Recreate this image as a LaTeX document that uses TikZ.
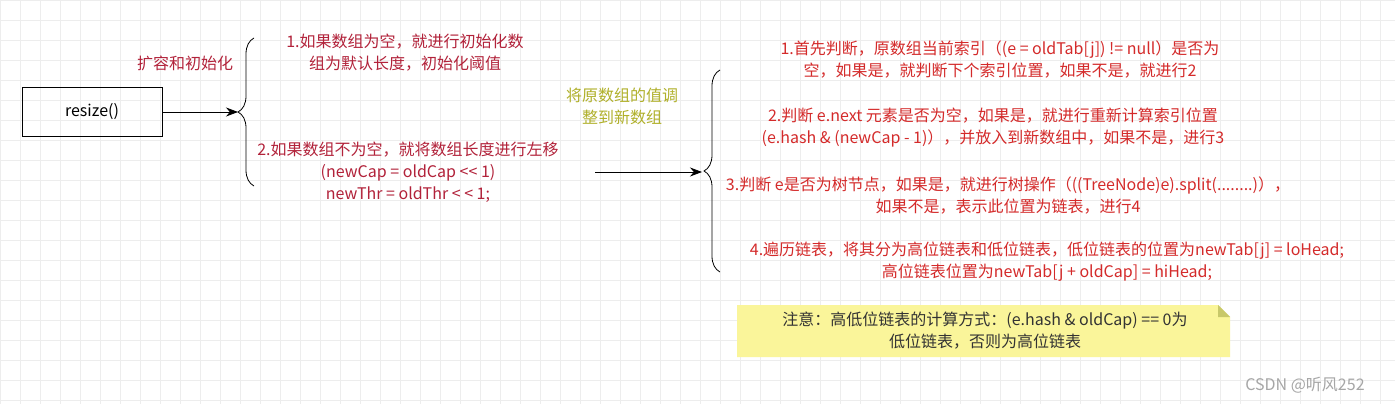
\documentclass[tikz,border=0pt]{standalone}
\usepackage{fontspec}
\setmainfont{Noto Sans CJK SC}
\usetikzlibrary{decorations.pathreplacing,arrows.meta}
\definecolor{redtxt}{HTML}{D42A2A}
\definecolor{darkred}{HTML}{B2223A}
\definecolor{olivetxt}{HTML}{B0B02A}
\definecolor{notebg}{HTML}{FAF59A}
\tikzset{
  txt/.style={font=\fontsize{16pt}{22pt}\selectfont, align=center},
  flow/.style={thick,-{Stealth[length=12pt,width=9pt,fill=black]}},
  brace/.style={thick,decorate,decoration={brace,amplitude=16pt}}
}
\begin{document}
\begin{tikzpicture}[x=1pt,y=-1pt]
		%Background
		\useasboundingbox (0,0) rectangle (1395,404);
		\fill[white] (0,0) rectangle (1395,404);
		\draw[black!7,step=20pt] (0,0) grid (1395,404);
		%Left part
		\node[draw,thick,minimum width=140pt,minimum height=49pt,txt] (resize) at (92,112) {resize()};
		\coordinate (b1top) at (254,38);
		\coordinate (b1bot) at (254,186);
		\draw[brace] (b1bot) -- (b1top);
		\coordinate (b1tip) at (238,112);
		\draw[flow] (resize.east) -- (b1tip);
		\node[txt,text=darkred] (expand) at (185,63) {扩容和初始化};
		\node[txt,text=darkred] (empty) at (405,53) {1.如果数组为空，就进行初始化数\\组为默认长度，初始化阈值};
		\node[txt,text=darkred] (shift) at (408,172) {2.如果数组不为空，就将数组长度进行左移\\(newCap = oldCap {<}{<} 1)\\newThr = oldThr {<} {<} 1;};
		%Middle
		\node[txt,text=olivetxt] (move) at (622,106) {将原数组的值调\\整到新数组};
		\coordinate (arrstart) at (595,172);
		\coordinate (b2tip) at (702,172);
		\draw[flow] (arrstart) -- (b2tip);
		\coordinate (b2top) at (720,70);
		\coordinate (b2bot) at (720,272);
		\draw[brace] (b2bot) -- (b2top);
		%Right part
		\node[txt,text=redtxt] (step1) at (1000,60) {1.首先判断，原数组当前索引（(e = oldTab[j]) != null）是否为\\空，如果是，就判断下个索引位置，如果不是，就进行2};
		\node[txt,text=redtxt] (step2) at (993,128) {2.判断 e.next 元素是否为空，如果是，就进行重新计算索引位置\\(e.hash \& (newCap - 1)），并放入到新数组中，如果不是，进行3};
		\node[txt,text=redtxt] (step3) at (1008,196) {3.判断 e是否为树节点，如果是，就进行树操作（((TreeNode)e).split(........)），\\如果不是，表示此位置为链表，进行4};
		\node[txt,text=redtxt] (step4) at (1047,262) {4.遍历链表，将其分为高位链表和低位链表，低位链表的位置为newTab[j] = loHead;\\高位链表位置为newTab[j + oldCap] = hiHead;};
		%Note
		\fill[notebg] (737,305) -- (1218,305) -- (1230,317) -- (1230,357) -- (737,357) -- cycle;
		\fill[olivetxt!70] (1218,305) -- (1230,317) -- (1218,317) -- cycle;
		\node[txt,text=black!80] (note) at (985,331) {注意：高低位链表的计算方式：(e.hash \& oldCap) == 0为\\低位链表，否则为高位链表};
		%Watermark
		\node[txt,text=black!35] (mark) at (1305,385) {CSDN @听风252};
		\end{tikzpicture}
\end{document}
